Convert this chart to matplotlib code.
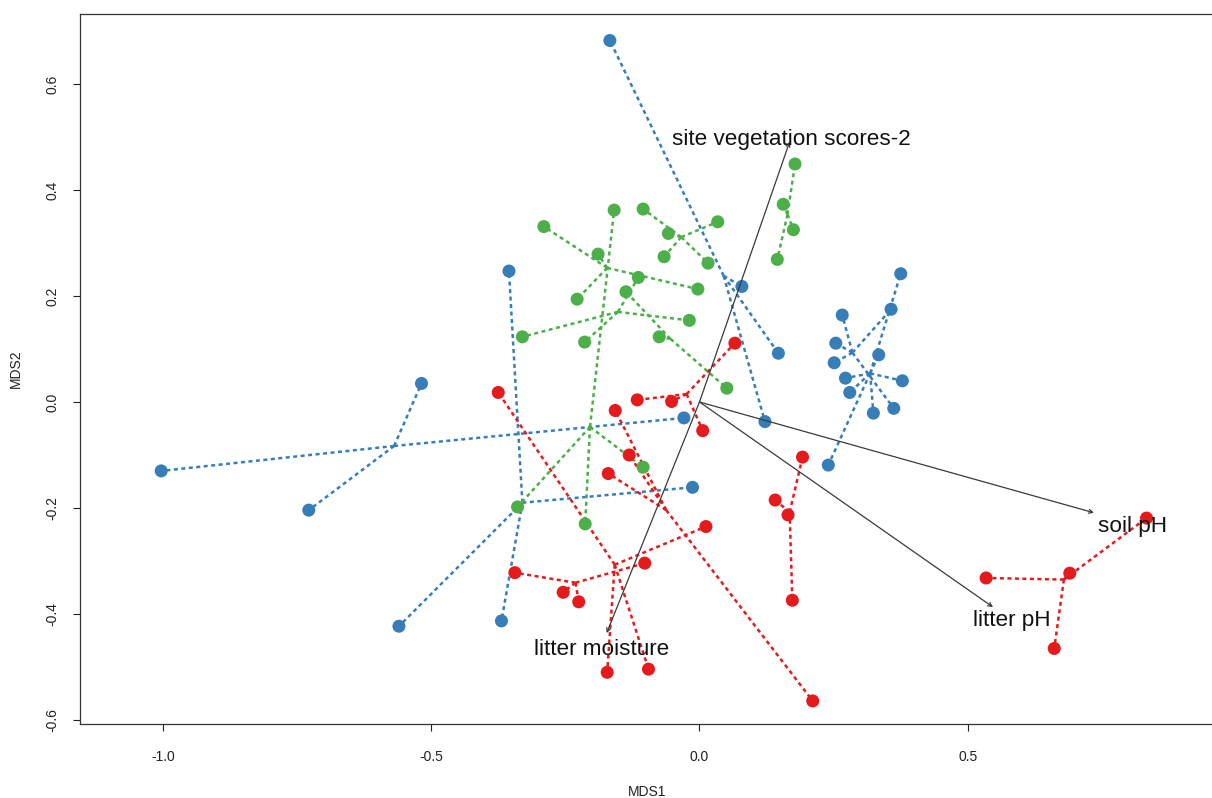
import matplotlib
matplotlib.use('Agg')
import matplotlib.pyplot as plt

plt.rcParams['font.family'] = ['Liberation Sans', 'DejaVu Sans']

# site scores (MDS1, MDS2), the group each site belongs to and the group centroids
blue_x = [-1.003, -0.518, -0.728, -0.029,
          -0.560, -0.369, -0.355, -0.013,
          -0.167, 0.079, 0.147, 0.122,
          0.357, 0.266, 0.254, 0.251, 0.362,
          0.375, 0.334, 0.272, 0.378, 0.280, 0.324, 0.240]
blue_y = [-0.130, 0.035, -0.204, -0.030,
          -0.423, -0.413, 0.247, -0.161,
          0.682, 0.218, 0.092, -0.037,
          0.175, 0.164, 0.111, 0.074, -0.012,
          0.242, 0.089, 0.045, 0.040, 0.018, -0.021, -0.119]
blue_grp = [0, 0, 0, 0, 1, 1, 1, 1, 2, 2, 2, 2, 3, 3, 3, 3, 3, 4, 4, 4, 4, 4, 4, 4]
blue_cx = [-0.569, -0.330, 0.045, 0.285, 0.318]
blue_cy = [-0.083, -0.190, 0.238, 0.093, 0.054]

green_x = [0.178, 0.156, 0.175, 0.145,
           -0.105, 0.034, -0.058, -0.066, 0.016,
           -0.159, -0.105, -0.339, -0.213,
           -0.290, -0.189, -0.003, -0.228,
           -0.330, -0.019, -0.114, -0.214,
           -0.137, -0.075, 0.051]
green_y = [0.449, 0.373, 0.325, 0.269,
           0.364, 0.340, 0.318, 0.274, 0.262,
           0.362, -0.123, -0.198, -0.230,
           0.331, 0.279, 0.213, 0.194,
           0.123, 0.154, 0.235, 0.113,
           0.208, 0.123, 0.026]
green_grp = [0, 0, 0, 0, 1, 1, 1, 1, 1, 2, 2, 2, 2, 3, 3, 3, 3, 4, 4, 4, 4, 5, 5, 5]
green_cx = [0.164, -0.034, -0.204, -0.172, -0.152, -0.054]
green_cy = [0.354, 0.311, -0.047, 0.253, 0.170, 0.119]

red_x = [-0.116, -0.052, 0.066, 0.006,
         -0.157, -0.131, -0.170, 0.211,
         -0.375, 0.012, -0.172, -0.095,
         -0.344, -0.254, -0.225, -0.102,
         0.192, 0.141, 0.165, 0.173,
         0.833, 0.534, 0.690, 0.661]
red_y = [0.004, 0.001, 0.111, -0.054,
         -0.016, -0.100, -0.135, -0.564,
         0.018, -0.235, -0.510, -0.504,
         -0.322, -0.359, -0.377, -0.304,
         -0.104, -0.185, -0.213, -0.374,
         -0.219, -0.332, -0.323, -0.465]
red_grp = [0, 0, 0, 0, 1, 1, 1, 1, 2, 2, 2, 2, 3, 3, 3, 3, 4, 4, 4, 4, 5, 5, 5, 5]
red_cx = [-0.024, -0.062, -0.158, -0.231, 0.168, 0.679]
red_cy = [0.015, -0.204, -0.307, -0.341, -0.208, -0.335]

# fitted environmental vectors
vec_names = ['site vegetation scores-2', 'soil pH', 'litter pH', 'litter moisture']
vec_x = [0.168, 0.735, 0.547, -0.173]
vec_y = [0.491, -0.209, -0.387, -0.436]
vec_lab_x = [0.172, 0.807, 0.581, -0.183]
vec_lab_y = [0.495, -0.234, -0.413, -0.467]

set1_blue = '#377EB8'
set1_green = '#4DAF4A'
set1_red = '#E41A1C'


def draw_spider(ax, xs, ys, grp, cx, cy, colour):
    for i in range(len(xs)):
        g = grp[i]
        ax.plot([cx[g], xs[i]], [cy[g], ys[i]], color=colour, linewidth=1.8,
                linestyle=(0, (1.6, 1.4)), zorder=2)


if __name__ == '__main__':
    fig = plt.figure(figsize=(12.12, 7.98), dpi=100)
    ax = fig.add_axes([80 / 1212, 74 / 798, 1134 / 1212, 710 / 798])

    draw_spider(ax, blue_x, blue_y, blue_grp, blue_cx, blue_cy, set1_blue)
    draw_spider(ax, green_x, green_y, green_grp, green_cx, green_cy, set1_green)
    draw_spider(ax, red_x, red_y, red_grp, red_cx, red_cy, set1_red)

    ax.scatter(blue_x, blue_y, s=88, color=set1_blue, edgecolors='none', zorder=3)
    ax.scatter(green_x, green_y, s=88, color=set1_green, edgecolors='none', zorder=3)
    ax.scatter(red_x, red_y, s=88, color=set1_red, edgecolors='none', zorder=3)

    for i in range(len(vec_names)):
        ax.annotate('', xy=(vec_x[i], vec_y[i]), xytext=(0, 0),
                    arrowprops=dict(arrowstyle='->', color='#3a3a3a', lw=0.9,
                                    mutation_scale=7, shrinkA=0, shrinkB=0),
                    zorder=4)
        ax.text(vec_lab_x[i], vec_lab_y[i], vec_names[i], fontsize=16.2,
                ha='center', va='center', color='#111111', zorder=5)

    ax.set_xlim(-1.1543, 0.9587)
    ax.set_ylim(-0.6075, 0.732)
    ax.set_xticks([-1.0, -0.5, 0.0, 0.5])
    ax.set_xticklabels(['-1.0', '-0.5', '0.0', '0.5'])
    ax.set_yticks([-0.6, -0.4, -0.2, 0.0, 0.2, 0.4, 0.6])
    ax.set_yticklabels(['-0.6', '-0.4', '-0.2', '0.0', '0.2', '0.4', '0.6'],
                       rotation=90, va='center')
    ax.tick_params(axis='both', direction='out', length=5, width=0.8,
                   labelsize=10, colors='#222222')
    ax.tick_params(axis='x', pad=13.5)
    ax.tick_params(axis='y', pad=10)
    for side in ax.spines:
        ax.spines[side].set_color('#333333')
        ax.spines[side].set_linewidth(0.9)

    ax.set_xlabel('MDS1', fontsize=10, labelpad=15, color='#222222')
    ax.set_ylabel('MDS2', fontsize=10, labelpad=16, color='#222222')

    fig.savefig('out.png', dpi=100)
